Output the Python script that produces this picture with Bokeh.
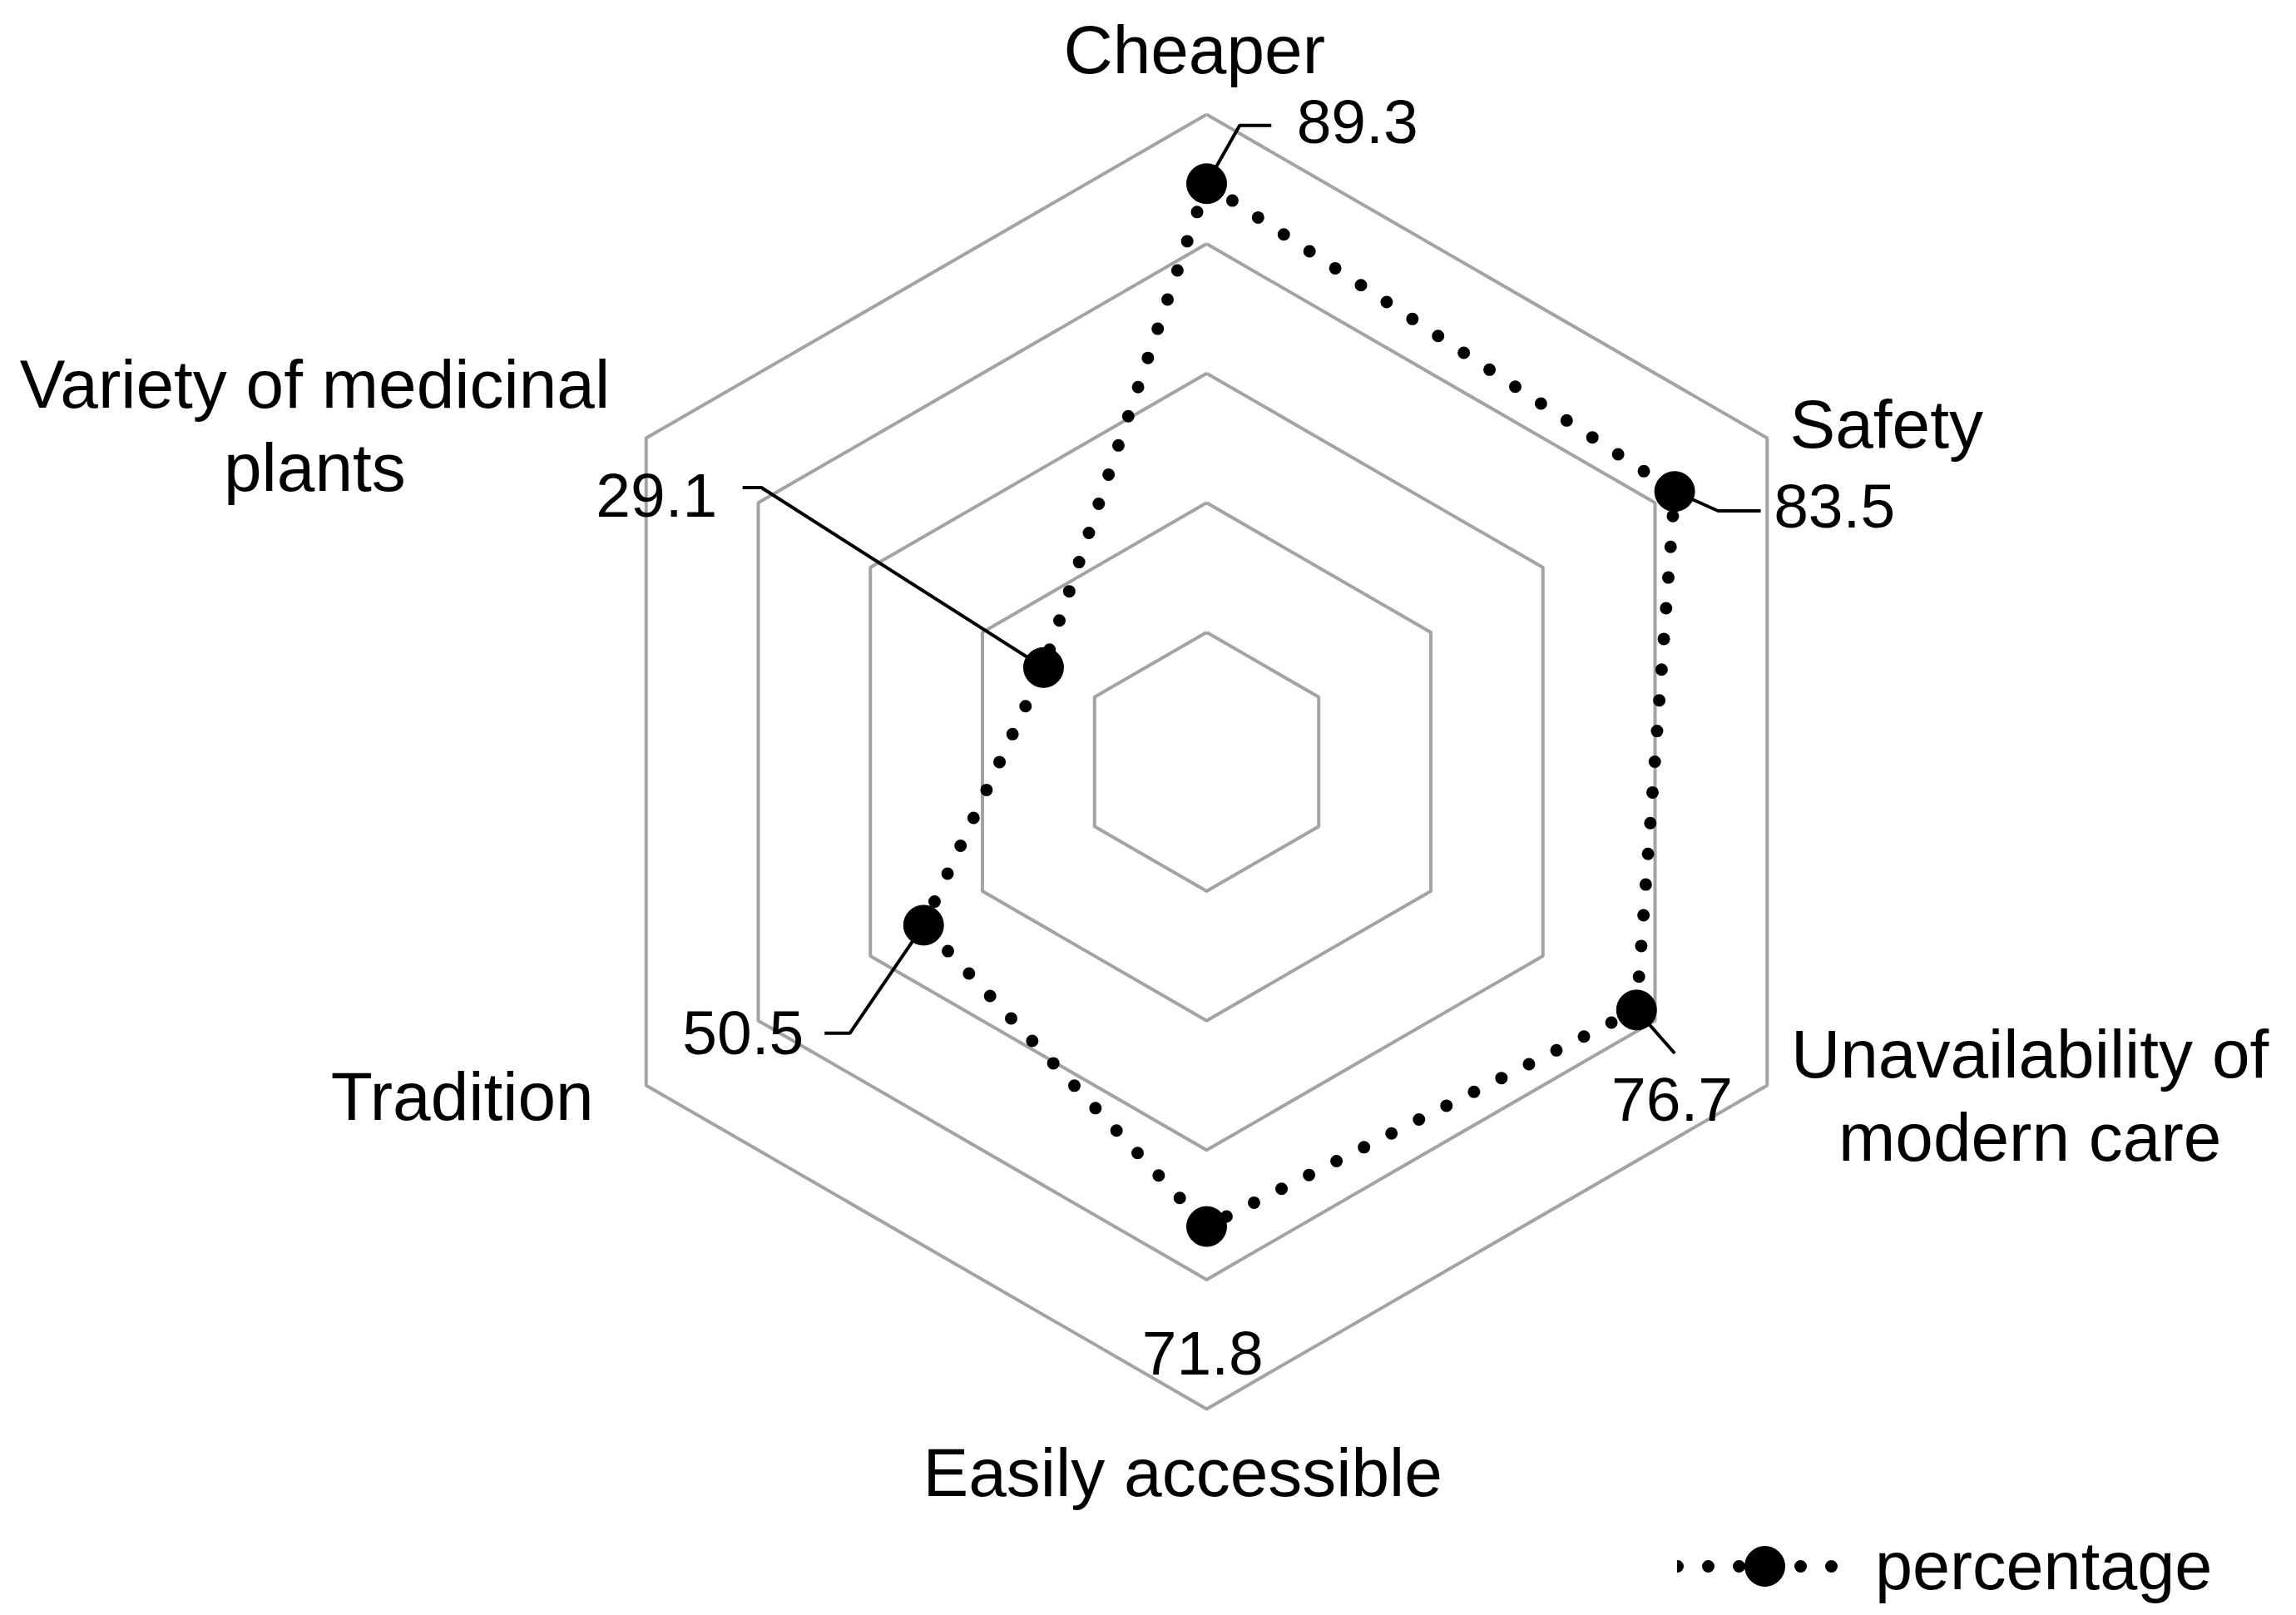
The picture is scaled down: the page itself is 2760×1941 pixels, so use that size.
import math
from bokeh.plotting import figure
from bokeh.models import Range1d, Legend, LegendItem
from bokeh.core.properties import value
from bokeh.embed import file_html
from bokeh.resources import INLINE

# ---------------- data ----------------
categories = ["Cheaper", "Safety", "Unavailability of\nmodern care",
              "Easily accessible", "Tradition", "Variety of medicinal\nplants"]
values = [89.3, 83.5, 76.7, 71.8, 50.5, 29.1]
value_labels = ["89.3", "83.5", "76.7", "71.8", "50.5", "29.1"]
ring_levels = [20, 40, 60, 80, 100]
series_name = "percentage"

# ---------------- layout / style ----------------
W, H = 2760, 1941
SCALE = 7.78          # px per percentage unit
CX, CY = 1450, 915    # centre of the radar in page pixels
FONT = "Liberation Sans"
GRID_COLOR = "#a3a3a3"

# category label offsets from outer vertex (data units) + alignment
cat_layout = [(-1.9, 10.0, "center"), (3.5, 2.2, "left"), (40.6, -1.5, "center"),
              (-3.7, -9.8, "center"), (-8.1, -1.7, "right"), (-51.2, 1.9, "center")]
# value label layout relative to the point: leader elbow (dx,dy), leader end dx, text (dx,dy,align)
val_layout = [
    dict(elbow=(5.1, 9.0), end=10.0, text=(13.9, 9.6, "left"), leader=True),
    dict(elbow=(6.7, -3.0), end=13.3, text=(15.3, -2.3, "left"), leader=True),
    dict(elbow=(5.9, -6.7), end=5.9, text=(5.5, -13.8, "center"), leader=True),
    dict(elbow=(0, 0), end=0, text=(-0.6, -19.6, "center"), leader=False),
    dict(elbow=(-11.4, -16.7), end=-15.3, text=(-18.5, -16.7, "right"), leader=True),
    dict(elbow=(-43.6, 27.8), end=-46.5, text=(-50.4, 26.6, "right"), leader=True),
]

n = len(categories)
angles = [math.radians(90 - i * 360.0 / n) for i in range(n)]

p = figure(width=W, height=H, output_backend="svg", toolbar_location=None,
           x_axis_type=None, y_axis_type=None, min_border=0,
           x_range=Range1d((0 - CX) / SCALE, (W - CX) / SCALE),
           y_range=Range1d((CY - H) / SCALE, CY / SCALE))
p.grid.visible = False
p.outline_line_color = None
p.background_fill_color = "white"
p.border_fill_color = "white"

# rings
ring_xs, ring_ys = [], []
for lv in ring_levels:
    xs = [lv * math.cos(a) for a in angles]
    ys = [lv * math.sin(a) for a in angles]
    ring_xs.append(xs + [xs[0]])
    ring_ys.append(ys + [ys[0]])
p.multi_line(ring_xs, ring_ys, line_color=GRID_COLOR, line_width=4)

# data points
px = [v * math.cos(a) for v, a in zip(values, angles)]
py = [v * math.sin(a) for v, a in zip(values, angles)]

# leader lines
lxs, lys = [], []
for x0, y0, lay in zip(px, py, val_layout):
    if not lay["leader"]:
        continue
    ex, ey = lay["elbow"]
    lxs.append([x0, x0 + ex, x0 + lay["end"]])
    lys.append([y0, y0 + ey, y0 + ey])
p.multi_line(lxs, lys, line_color="black", line_width=4)

line_r = p.line(px + [px[0]], py + [py[0]], line_color="black", line_width=15,
                line_dash="0 37", line_cap="round")
pt_r = p.scatter(px, py, size=48, marker="circle", fill_color="black", line_color="black")

# category labels
for i, (cat, a) in enumerate(zip(categories, angles)):
    dx, dy, al = cat_layout[i]
    p.text(x=[100 * math.cos(a) + dx], y=[100 * math.sin(a) + dy], text=[cat],
           text_font=value(FONT), text_font_size="82px", text_color="black",
           text_align=al, text_baseline="middle", text_line_height=1.1)

# value labels
for x0, y0, lab, lay in zip(px, py, value_labels, val_layout):
    dx, dy, al = lay["text"]
    p.text(x=[x0 + dx], y=[y0 + dy], text=[lab], text_font=value(FONT),
           text_font_size="75px", text_color="black", text_align=al,
           text_baseline="middle")

legend = Legend(items=[LegendItem(label=series_name, renderers=[line_r, pt_r])],
                location=(2016, -1), orientation="horizontal",
                glyph_width=210, glyph_height=120, label_standoff=28,
                label_text_font=FONT, label_text_font_size="81px",
                label_text_color="black", label_height=120,
                padding=0, margin=0, spacing=0,
                border_line_alpha=0, background_fill_alpha=0)
p.add_layout(legend)

open("out.html", "w").write(file_html(p, INLINE))
